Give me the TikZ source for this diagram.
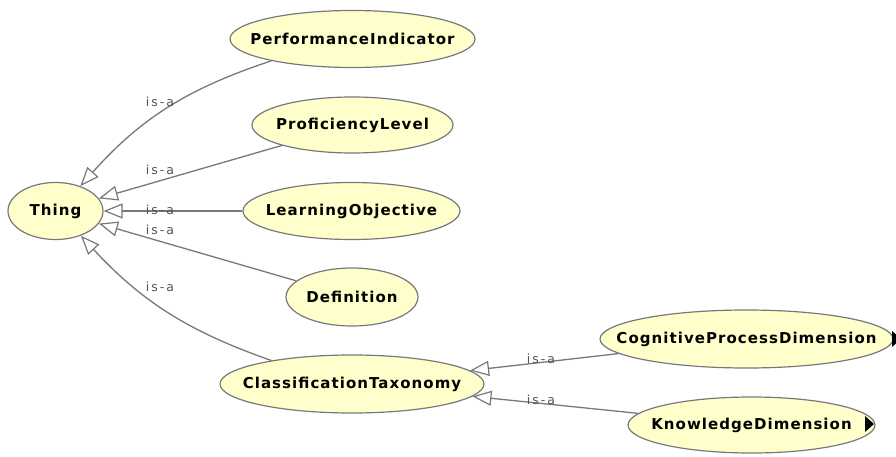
\documentclass[tikz,border=0pt]{standalone}
\usepackage{fontspec}
\setmainfont{DejaVu Sans}
\newfontfamily\classfont{DejaVu Sans}[LetterSpace=7]
\newfontfamily\edgefont{DejaVu Sans}[LetterSpace=16]
\usetikzlibrary{arrows.meta,shapes.geometric}
\definecolor{classfill}{RGB}{255,255,204}
\definecolor{classline}{RGB}{120,120,120}
\definecolor{edgeline}{RGB}{120,120,120}
\definecolor{edgetext}{RGB}{85,85,85}

\begin{document}
\begin{tikzpicture}[x=1pt,y=1pt,
  cls/.style={ellipse, draw=classline, line width=1.2pt, fill=classfill, inner sep=0pt,
    font=\classfont\bfseries\fontsize{15}{17}\selectfont},
  isa/.style={draw=edgeline, line width=1.3pt,
    -{Triangle[open,length=19pt,width=15pt,line width=1.2pt]}},
  isalabel/.style={inner sep=0pt, text=edgetext, font=\edgefont\fontsize{12.5}{14}\selectfont},
  expander/.style={fill=black}
]
\useasboundingbox (0,0) rectangle (896,456);

% classes
\node[cls, minimum width=95pt,  minimum height=57pt] (thing) at (55.5,245)  {\makebox[0pt]{Thing}};
\node[cls, minimum width=245pt, minimum height=57pt] (perf)  at (352.5,417) {\makebox[0pt]{PerformanceIndicator}};
\node[cls, minimum width=201pt, minimum height=56pt] (prof)  at (352.5,331) {\makebox[0pt]{ProficiencyLevel}};
\node[cls, minimum width=217pt, minimum height=57pt] (learn) at (351.5,245) {\makebox[0pt]{LearningObjective}};
\node[cls, minimum width=132pt, minimum height=58pt] (defn)  at (352,159)   {\makebox[0pt]{Definition}};
\node[cls, minimum width=264pt, minimum height=58pt] (ctax)  at (352,72)    {\makebox[0pt]{ClassificationTaxonomy}};
\node[cls, minimum width=293pt, minimum height=58pt] (cog)   at (746.5,117) {\makebox[0pt]{CognitiveProcessDimension}};
\node[cls, minimum width=247pt, minimum height=56pt] (know)  at (751.5,31)  {\makebox[0pt]{KnowledgeDimension}};

% subclasses still collapsed
\fill[expander] ([xshift=145.5pt,yshift=8pt]cog.center) -- ([xshift=154.5pt]cog.center) -- ([xshift=145.5pt,yshift=-8pt]cog.center) -- cycle;
\fill[expander] ([xshift=113.5pt,yshift=9pt]know.center) -- ([xshift=122.5pt,yshift=1pt]know.center) -- ([xshift=113.5pt,yshift=-7pt]know.center) -- cycle;

% is-a links
\draw[isa] (perf) to[bend right=15] (thing);
\draw[isa] (prof) -- (thing);
\draw[isa] (learn) -- (thing);
\draw[isa] (defn) -- (thing);
\draw[isa] (ctax) to[bend left=14] (thing);
\draw[isa] (cog) -- (ctax);
\draw[isa] (know) -- (ctax);

% link labels
\node[isalabel] (lperf)  at (160,354) {is-a};
\node[isalabel] (lprof)  at (160,286) {is-a};
\node[isalabel] (llearn) at (160,246) {is-a};
\node[isalabel] (ldefn)  at (160,226) {is-a};
\node[isalabel] (lctax)  at (160,169) {is-a};
\node[isalabel] (lcog)   at (541,97)  {is-a};
\node[isalabel] (lknow)  at (541,56)  {is-a};
\end{tikzpicture}
\end{document}
